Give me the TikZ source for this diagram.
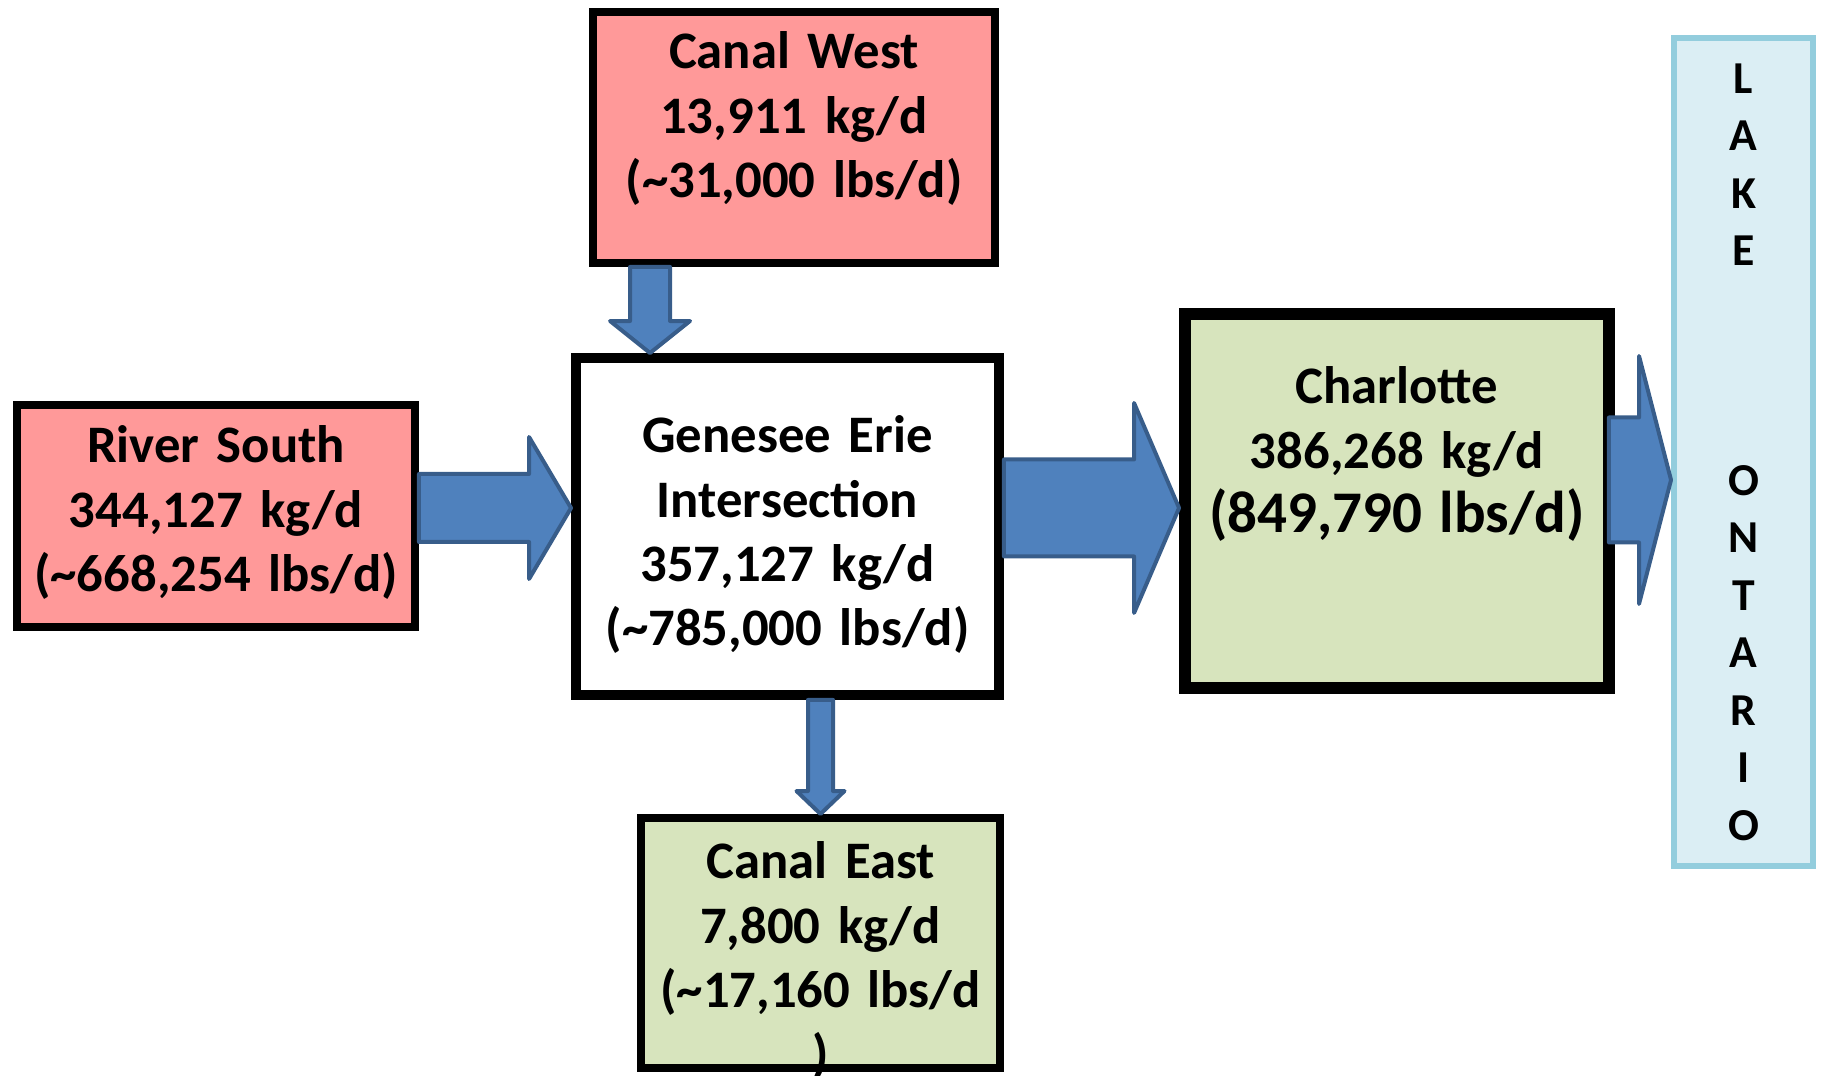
\documentclass[tikz,border=0pt]{standalone}
\usepackage{fontspec}
\setmainfont{Carlito}
\usetikzlibrary{calc}
\definecolor{sourcered}{HTML}{FF9999}
\definecolor{sinkgreen}{HTML}{D7E4BD}
\definecolor{lakefill}{HTML}{DBEEF4}
\definecolor{lakeedge}{HTML}{93CDDD}
\definecolor{flowblue}{HTML}{4F81BD}
\definecolor{flowedge}{HTML}{385D8A}

% block arrows: start, tip, half shaft, half head, head length
\newcommand{\flowright}[5]{%
  \draw[flow] let \p1=(#1), \p2=(#2) in
    (\x1,\y1-#3) -- (\x2-#5,\y1-#3) -- (\x2-#5,\y1-#4) -- (\x2,\y1)
    -- (\x2-#5,\y1+#4) -- (\x2-#5,\y1+#3) -- (\x1,\y1+#3) -- cycle;}
\newcommand{\flowdown}[5]{%
  \draw[flow] let \p1=(#1), \p2=(#2) in
    (\x1-#3,\y1) -- (\x1-#3,\y2+#5) -- (\x1-#4,\y2+#5) -- (\x1,\y2)
    -- (\x1+#4,\y2+#5) -- (\x1+#3,\y2+#5) -- (\x1+#3,\y1) -- cycle;}

\begin{document}
\begin{tikzpicture}[x=0.02cm, y=-0.02cm,
  box/.style={draw=black, line width=0.16cm, anchor=north, align=center,
    inner sep=0pt, font=\bfseries\fontsize{30}{36.6}\selectfont},
  flow/.style={fill=flowblue, draw=flowedge, line width=0.08cm, line join=round},
  lake/.style={draw=lakeedge, fill=lakefill, line width=0.12cm,
    minimum width=2.78cm, minimum height=16.56cm, inner sep=0pt, align=center,
    font=\bfseries\fontsize{26}{32.7}\selectfont}]
  \useasboundingbox (0,0) rectangle (1822,1075);

  \node[box, fill=sourcered, text width=8.04cm, text height=1.14cm, text depth=3.88cm]
    (west) at (794,8) {Canal West\\13,911 kg/d\\(\textasciitilde31,000 lbs/d)};
  \node[box, fill=sourcered, text width=7.96cm, text height=1.16cm, text depth=3.28cm]
    (river) at (216,401) {River South\\344,127 kg/d\\(\textasciitilde668,254 lbs/d)};
  \node[box, fill=white, line width=0.2cm, text width=8.46cm, text height=1.9cm, text depth=4.84cm]
    (gen) at (787.5,353) {Genesee Erie\\Intersection\\357,127 kg/d\\(\textasciitilde785,000 lbs/d)};
  \node[box, fill=sinkgreen, line width=0.24cm, text width=8.48cm, text height=1.8cm, text depth=5.68cm]
    (charlotte) at (1397,308)
    {Charlotte\\386,268 kg/d\\{\fontsize{33.6}{36.6}\selectfont(849,790 lbs/d)}};
  \node[box, fill=sinkgreen, text width=7.18cm, text height=1.22cm, text depth=3.78cm]
    (east) at (820.5,814) {Canal East\\7,800 kg/d\\(\textasciitilde17,160 lbs/d\\)};
  \node[lake] (lake) at (1743.5,452)
    {L\\A\\K\\E\\\mbox{}\\\mbox{}\\\mbox{}\\O\\N\\T\\A\\R\\I\\O};

  % flows
  \flowdown{[xshift=-2.88cm]west.south}{gen.north}{0.4cm}{0.8cm}{0.64cm}
  \flowright{[yshift=0.16cm]river.east}{gen.west}{0.68cm}{1.42cm}{0.84cm}
  \flowright{[yshift=0.37cm]gen.east}{charlotte.west}{0.97cm}{2.1cm}{0.9cm}
  \flowright{[xshift=-0.12cm,yshift=0.42cm]charlotte.east}{lake.west}{1.25cm}{2.48cm}{0.64cm}
  \flowdown{[xshift=0.66cm]gen.south}{east.north}{0.25cm}{0.48cm}{0.46cm}
\end{tikzpicture}
\end{document}
